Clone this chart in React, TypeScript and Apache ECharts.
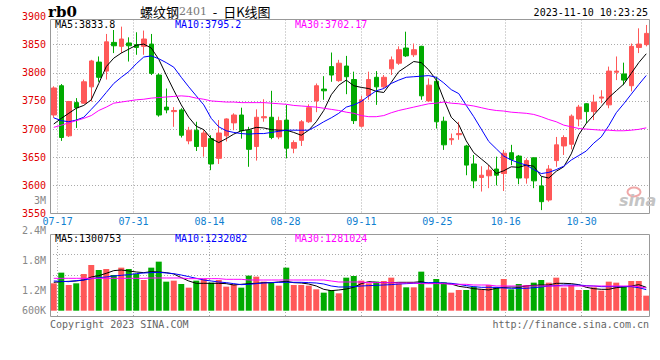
import React, { useEffect, useRef } from "react";
import * as echarts from "echarts";

const dates = [
  "07-14", "07-17", "07-18", "07-19", "07-20", "07-21", "07-24", "07-25", "07-26", "07-27", "07-28", "07-31",
  "08-01", "08-02", "08-03", "08-04", "08-07", "08-08", "08-09", "08-10", "08-11", "08-14", "08-15", "08-16",
  "08-17", "08-18", "08-21", "08-22", "08-23", "08-24", "08-25", "08-28", "08-29", "08-30", "08-31",
  "09-01", "09-04", "09-05", "09-06", "09-07", "09-08", "09-11", "09-12", "09-13", "09-14", "09-15", "09-18",
  "09-19", "09-20", "09-21", "09-22", "09-25", "09-26", "09-27", "09-28",
  "10-09", "10-10", "10-11", "10-12", "10-13", "10-16", "10-17", "10-18", "10-19", "10-20", "10-23", "10-24",
  "10-25", "10-26", "10-27", "10-30", "10-31",
  "11-01", "11-02", "11-03", "11-06", "11-07", "11-08", "11-09", "11-10",
];
const axisLabelDates = ["07-17", "07-31", "08-14", "08-28", "09-11", "09-25", "10-16", "10-30"];

const opens = [
  3725, 3777, 3688, 3747, 3746, 3775, 3819, 3803, 3854, 3847, 3853, 3850, 3847, 3851, 3796, 3739, 3731, 3734, 3679, 3698,
  3669, 3683, 3648, 3688, 3711, 3725, 3698, 3669, 3720, 3721, 3686, 3716, 3666, 3680, 3713, 3750, 3771, 3811, 3786, 3812,
  3788, 3705, 3759, 3792, 3775, 3807, 3817, 3844, 3832, 3847, 3750, 3785, 3714, 3681, 3690, 3670, 3638, 3614, 3617, 3629,
  3621, 3658, 3652, 3613, 3649, 3599, 3574, 3644, 3670, 3673, 3718, 3745, 3731, 3755, 3743, 3801, 3798, 3777, 3845, 3850,
];
const closes = [
  3773, 3685, 3749, 3738, 3784, 3821, 3792, 3855, 3848, 3860, 3848, 3845, 3860, 3799, 3725, 3734, 3733, 3689, 3698, 3669,
  3693, 3638, 3693, 3718, 3725, 3697, 3664, 3721, 3722, 3685, 3715, 3666, 3676, 3713, 3738, 3777, 3768, 3796, 3817, 3793,
  3715, 3752, 3788, 3775, 3792, 3823, 3841, 3830, 3841, 3759, 3778, 3713, 3672, 3683, 3692, 3636, 3608, 3618, 3627, 3618,
  3657, 3646, 3613, 3644, 3608, 3571, 3629, 3672, 3685, 3723, 3739, 3731, 3748, 3757, 3803, 3803, 3787, 3847, 3851, 3870,
];
const lows = [
  3720, 3679, 3686, 3702, 3745, 3749, 3784, 3788, 3835, 3835, 3820, 3832, 3832, 3796, 3722, 3728, 3704, 3685, 3673, 3661,
  3651, 3627, 3638, 3678, 3698, 3683, 3633, 3644, 3713, 3682, 3682, 3648, 3657, 3670, 3711, 3730, 3752, 3784, 3784, 3762,
  3709, 3703, 3752, 3743, 3772, 3796, 3814, 3828, 3828, 3752, 3748, 3701, 3663, 3672, 3681, 3618, 3595, 3589, 3595, 3600,
  3590, 3636, 3602, 3603, 3595, 3556, 3571, 3633, 3654, 3664, 3705, 3710, 3716, 3746, 3737, 3787, 3778, 3767, 3835, 3847,
];
const highs = [
  3776, 3780, 3750, 3755, 3788, 3823, 3829, 3869, 3876, 3882, 3863, 3872, 3875, 3869, 3799, 3772, 3739, 3737, 3704, 3713,
  3698, 3689, 3716, 3719, 3728, 3738, 3704, 3735, 3753, 3768, 3722, 3743, 3680, 3716, 3744, 3781, 3794, 3836, 3823, 3830,
  3802, 3759, 3802, 3803, 3796, 3829, 3847, 3873, 3852, 3848, 3790, 3793, 3722, 3692, 3713, 3672, 3654, 3634, 3636, 3651,
  3663, 3672, 3654, 3648, 3649, 3615, 3636, 3686, 3689, 3726, 3743, 3746, 3761, 3769, 3811, 3829, 3818, 3852, 3879, 3885,
];

const ma5 = [
  3709, 3719, 3728, 3737, 3742, 3752, 3781, 3811, 3826, 3835, 3842, 3849, 3851, 3844, 3824, 3796, 3769, 3743, 3721, 3705,
  3699, 3683, 3676, 3683, 3691, 3697, 3699, 3703, 3702, 3699, 3698, 3698, 3694, 3689, 3698, 3713, 3733, 3761, 3778, 3787,
  3777, 3774, 3772, 3767, 3765, 3783, 3802, 3811, 3820, 3818, 3805, 3787, 3753, 3721, 3708, 3679, 3658, 3647, 3636, 3621,
  3626, 3633, 3632, 3636, 3634, 3616, 3613, 3625, 3633, 3656, 3690, 3710, 3725, 3740, 3756, 3768, 3780, 3799, 3818, 3833.8,
];
const ma10 = [
  3720, 3715, 3713, 3716, 3721, 3735, 3749, 3765, 3781, 3792, 3802, 3816, 3828, 3830, 3825, 3818, 3810, 3792, 3775, 3759,
  3743, 3719, 3704, 3697, 3694, 3692, 3691, 3692, 3692, 3694, 3696, 3698, 3698, 3698, 3698, 3705, 3713, 3720, 3728, 3739,
  3743, 3749, 3759, 3768, 3772, 3781, 3787, 3792, 3793, 3794, 3795, 3792, 3782, 3770, 3763, 3742, 3722, 3700, 3678, 3665,
  3652, 3645, 3640, 3636, 3628, 3621, 3623, 3628, 3634, 3645, 3653, 3661, 3675, 3686, 3706, 3729, 3745, 3762, 3779, 3795.2,
];
const ma30 = [
  3703, 3707, 3711, 3715, 3719, 3724, 3733, 3739, 3746, 3748, 3750, 3752, 3753, 3755, 3756, 3757, 3758, 3759, 3758, 3755,
  3753, 3750, 3749, 3748, 3748, 3747, 3747, 3747, 3747, 3746, 3745, 3744, 3742, 3741, 3740, 3739, 3737, 3735, 3733, 3730,
  3728, 3724, 3722, 3722, 3724, 3729, 3733, 3736, 3739, 3742, 3745, 3746, 3748, 3746, 3745, 3743, 3741, 3738, 3735, 3733,
  3732, 3730, 3729, 3728, 3726, 3722, 3717, 3713, 3707, 3704, 3701, 3700, 3699, 3698, 3698, 3697, 3697, 3698, 3699.5, 3702.17,
];

const volumes = [
  1421000, 1741000, 1371000, 1421000, 1701000, 1971000, 1821000, 1851000, 1671000, 1891000,
  1851000, 1701000, 1521000, 1891000, 2071000, 1471000, 1501000, 1401000, 1291000, 1501000,
  1551000, 1441000, 1521000, 1321000, 1391000, 1291000, 1651000, 1621000, 1471000, 1441000,
  1351000, 1891000, 1371000, 1371000, 1351000, 1241000, 1141000, 1221000, 1121000, 1591000,
  1641000, 1501000, 1421000, 1471000, 1491000, 1591000, 1421000, 1301000, 1301000, 1771000,
  1291000, 1551000, 1451000, 1141000, 1221000, 1221000, 1321000, 1241000, 1371000, 1301000,
  1551000, 1241000, 1401000, 1371000, 1441000, 1521000, 1441000, 1591000, 1291000, 1371000,
  1221000, 1221000, 1301000, 1201000, 1471000, 1441000, 1321000, 1491000, 1491000, 1051000,
];
const volMa5 = [
  1451000, 1471000, 1481000, 1491000, 1521000, 1611000, 1651000, 1721000, 1801000, 1821000,
  1791000, 1761000, 1741000, 1771000, 1761000, 1741000, 1701000, 1591000, 1491000, 1421000,
  1421000, 1421000, 1421000, 1411000, 1371000, 1391000, 1411000, 1421000, 1441000, 1441000,
  1461000, 1481000, 1441000, 1431000, 1401000, 1341000, 1241000, 1201000, 1221000, 1251000,
  1301000, 1411000, 1471000, 1451000, 1441000, 1441000, 1451000, 1451000, 1451000, 1471000,
  1421000, 1421000, 1421000, 1401000, 1331000, 1301000, 1261000, 1241000, 1221000, 1271000,
  1301000, 1311000, 1301000, 1341000, 1361000, 1371000, 1371000, 1421000, 1421000, 1411000,
  1381000, 1301000, 1261000, 1241000, 1241000, 1291000, 1311000, 1341000, 1381000, 1300753,
];
const volMa10 = [
  1491000, 1481000, 1471000, 1501000, 1521000, 1561000, 1591000, 1611000, 1641000, 1661000,
  1681000, 1711000, 1731000, 1741000, 1751000, 1731000, 1711000, 1671000, 1621000, 1571000,
  1521000, 1491000, 1461000, 1441000, 1411000, 1381000, 1391000, 1411000, 1431000, 1441000,
  1451000, 1451000, 1451000, 1451000, 1441000, 1431000, 1401000, 1341000, 1311000, 1311000,
  1321000, 1341000, 1351000, 1361000, 1371000, 1381000, 1401000, 1411000, 1421000, 1431000,
  1441000, 1441000, 1431000, 1421000, 1391000, 1351000, 1321000, 1301000, 1301000, 1301000,
  1281000, 1271000, 1271000, 1271000, 1291000, 1311000, 1341000, 1351000, 1371000, 1371000,
  1371000, 1351000, 1341000, 1321000, 1321000, 1321000, 1321000, 1321000, 1290000, 1232082,
];
const volMa30 = [
  1571000, 1571000, 1571000, 1571000, 1571000, 1571000, 1571000, 1571000, 1571000, 1571000,
  1571000, 1571000, 1571000, 1581000, 1581000, 1581000, 1581000, 1581000, 1561000, 1561000,
  1561000, 1561000, 1561000, 1541000, 1541000, 1541000, 1521000, 1521000, 1521000, 1521000,
  1521000, 1521000, 1521000, 1521000, 1521000, 1521000, 1521000, 1491000, 1461000, 1461000,
  1461000, 1461000, 1441000, 1441000, 1441000, 1441000, 1431000, 1431000, 1431000, 1411000,
  1411000, 1411000, 1411000, 1391000, 1391000, 1391000, 1371000, 1371000, 1371000, 1341000,
  1341000, 1341000, 1341000, 1341000, 1341000, 1341000, 1341000, 1341000, 1341000, 1341000,
  1341000, 1341000, 1341000, 1341000, 1341000, 1341000, 1341000, 1341000, 1321000, 1281024,
];

const volTickLabels = ["3M", "2.4M", "1.8M", "1.2M", "600K"];
const priceMin = 3550;
const priceMax = 3900;
const priceStep = 50;
const volMin = 600000;
const volMax = 2900000;

const RED = "#ff5858";
const GREEN = "#00aa00";
const MONO = "DejaVu Sans Mono";
const DOT = [1, 2];

export default function App() {
  const ref = useRef<HTMLDivElement>(null);

  useEffect(() => {
    document.body.style.margin = "0";
    const chart = echarts.init(ref.current as HTMLDivElement, null, { renderer: "svg" });
    const labelIdx = axisLabelDates.map((d) => dates.indexOf(d));
    const showAt = (i: number) => labelIdx.indexOf(i) >= 0;
    const candles = dates.map((_, i) => [opens[i], closes[i], lows[i], highs[i]]);
    const volData = volumes.map((v, i) => ({
      value: v,
      itemStyle: { color: closes[i] >= opens[i] ? RED : GREEN },
    }));
    const lastMa5 = ma5[ma5.length - 1];
    const lastMa10 = ma10[ma10.length - 1];
    const lastMa30 = ma30[ma30.length - 1];
    const lastV5 = volMa5[volMa5.length - 1];
    const lastV10 = volMa10[volMa10.length - 1];
    const lastV30 = volMa30[volMa30.length - 1];

    const txt = (text: string, x: number, y: number, fill: string, align: string, font: string) => ({
      type: "text",
      x,
      y,
      silent: true,
      z: 100,
      style: {
        text,
        fill,
        font,
        align,
        verticalAlign: "middle",
        textAlign: align,
        textVerticalAlign: "middle",
      },
    });
    const volLabelY = [200, 230.7, 260.5, 290.5, 310.7];

    const lineSeries = (name: string, data: number[], color: string, xi: number, yi: number) => ({
      name,
      type: "line",
      data,
      xAxisIndex: xi,
      yAxisIndex: yi,
      symbol: "none",
      silent: true,
      lineStyle: { color, width: 1 },
      z: 5,
    });

    const option: any = {
      animation: false,
      backgroundColor: "#fff",
      grid: [
        { left: 50, right: 10, top: 16.5, bottom: 146.5 },
        { left: 50, right: 10, top: 19.5, bottom: 146.5 },
        { left: 50, right: 10, top: 234, bottom: 49.3 },
        { left: 50, right: 10, top: 234, bottom: 43.3 },
      ],
      xAxis: [
        { type: "category", gridIndex: 0, data: dates, boundaryGap: true, show: false },
        {
          type: "category",
          gridIndex: 1,
          data: dates,
          boundaryGap: false,
          axisLine: { show: false },
          axisTick: { show: false },
          axisLabel: {
            interval: (i: number) => showAt(i),
            color: "#1080d0",
            fontFamily: MONO,
            fontSize: 10,
            margin: 3,
          },
          splitLine: { show: true, interval: (i: number) => showAt(i), lineStyle: { color: "#aaa", type: DOT } },
        },
        { type: "category", gridIndex: 2, data: dates, boundaryGap: true, show: false },
        {
          type: "category",
          gridIndex: 3,
          data: dates,
          boundaryGap: false,
          axisLine: { show: false },
          axisTick: { show: false },
          axisLabel: { show: false },
          splitLine: { show: true, interval: (i: number) => showAt(i), lineStyle: { color: "#aaa", type: DOT } },
        },
      ],
      yAxis: [
        {
          type: "value",
          gridIndex: 0,
          min: priceMin,
          max: priceMax,
          interval: priceStep,
          axisLine: { show: false },
          axisTick: { show: false },
          axisLabel: {
            color: "#e00000",
            fontFamily: MONO,
            fontSize: 10,
            margin: 4,
            formatter: (v: number) => String(v),
          },
          splitLine: {
            show: true,
            showMinLine: false,
            showMaxLine: false,
            lineStyle: { color: "#aaa", type: DOT },
          },
        },
        { type: "value", gridIndex: 1, min: 0, max: 1, show: false },
        { type: "value", gridIndex: 2, min: volMin, max: volMax, show: false },
        {
          type: "value",
          gridIndex: 3,
          min: 0,
          max: 4,
          interval: 1,
          axisLine: { show: false },
          axisTick: { show: false },
          axisLabel: { show: false },
          splitLine: {
            show: true,
            showMinLine: false,
            showMaxLine: false,
            lineStyle: { color: "#aaa", type: DOT },
          },
        },
      ],
      series: [
        {
          name: "K",
          type: "candlestick",
          data: candles,
          xAxisIndex: 0,
          yAxisIndex: 0,
          barWidth: 5,
          silent: true,
          itemStyle: { color: RED, color0: GREEN, borderColor: RED, borderColor0: GREEN, borderWidth: 1 },
          z: 3,
        },
        lineSeries("MA5", ma5, "#000000", 0, 0),
        lineSeries("MA10", ma10, "#0000ff", 0, 0),
        lineSeries("MA30", ma30, "#ff00ff", 0, 0),
        {
          name: "VOL",
          type: "bar",
          data: volData,
          xAxisIndex: 2,
          yAxisIndex: 2,
          barWidth: 6,
          silent: true,
          z: 3,
        },
        lineSeries("VMA5", volMa5, "#000000", 2, 2),
        lineSeries("VMA10", volMa10, "#0000ff", 2, 2),
        lineSeries("VMA30", volMa30, "#ff00ff", 2, 2),
      ],
      graphic: [
        {
          type: "rect",
          silent: true,
          z: 90,
          shape: { x: 50.5, y: 19.5, width: 599, height: 194 },
          style: { fill: "none", stroke: "#999", lineWidth: 1 },
        },
        {
          type: "rect",
          silent: true,
          z: 90,
          shape: { x: 50.5, y: 234.5, width: 599, height: 82 },
          style: { fill: "none", stroke: "#999", lineWidth: 1 },
        },
        txt("rb0", 48, 12, "#000", "left", 'bold 15px "DejaVu Serif"'),
        {
          type: "text",
          x: 140,
          y: 11,
          silent: true,
          z: 100,
          style: {
            text: "{t|螺纹钢}{n|2401}{t|  -  日K线图}",
            verticalAlign: "middle",
            textVerticalAlign: "middle",
            rich: {
              t: { fontFamily: "Noto Sans CJK SC", fontSize: 13, fill: "#000", color: "#000" },
              n: { fontFamily: "DejaVu Serif", fontSize: 11, fill: "#777", color: "#777" },
            },
          },
        },
        txt("2023-11-10 10:23:25", 648, 12, "#000", "right", `10px "${MONO}"`),
        txt(`MA5:${lastMa5}`, 55, 24.5, "#000", "left", `10px "${MONO}"`),
        txt(`MA10:${lastMa10}`, 175, 24.5, "#0000ff", "left", `10px "${MONO}"`),
        txt(`MA30:${lastMa30}`, 295, 24.5, "#ff00ff", "left", `10px "${MONO}"`),
        txt(`MA5:${lastV5}`, 55, 238.5, "#000", "left", `10px "${MONO}"`),
        txt(`MA10:${lastV10}`, 175, 238.5, "#0000ff", "left", `10px "${MONO}"`),
        txt(`MA30:${lastV30}`, 295, 238.5, "#ff00ff", "left", `10px "${MONO}"`),
        ...volTickLabels.map((t, k) => txt(t, 46, volLabelY[k], "#888", "right", `10px "${MONO}"`)),
        txt("Copyright 2023 SINA.COM", 50, 324, "#666", "left", `10px "${MONO}"`),
        txt("http://finance.sina.com.cn", 649, 324, "#666", "right", `10px "${MONO}"`),
        {
          type: "ellipse",
          silent: true,
          z: 80,
          shape: { cx: 634, cy: 192, rx: 6.5, ry: 4.5 },
          style: { fill: "none", stroke: "#f0a8a8", lineWidth: 2 },
        },
        txt("sina", 619, 200, "#c4c4c4", "left", 'italic bold 16px "DejaVu Sans"'),
      ],
    };
    chart.setOption(option);
    return () => chart.dispose();
  }, []);

  return (
    <div
      ref={ref}
      style={{ position: "absolute", left: 0, top: 0, width: 660, height: 360, background: "#fff" }}
    />
  );
}
